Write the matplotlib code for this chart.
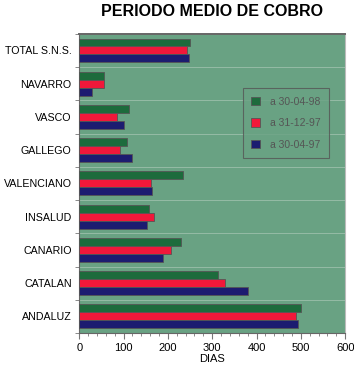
import matplotlib.pyplot as plt
import numpy as np
from matplotlib.ticker import MultipleLocator

plt.rcParams['font.family'] = ['Liberation Sans', 'DejaVu Sans']

categories = ['TOTAL S.N.S.', 'NAVARRO', 'VASCO', 'GALLEGO', 'VALENCIANO',
              'INSALUD', 'CANARIO', 'CATALAN', 'ANDALUZ']
a_300498 = [250, 56, 113, 108, 235, 157, 230, 313, 500]
a_311297 = [243, 56, 86, 92, 162, 169, 208, 329, 488]
a_300497 = [248, 29, 102, 118, 163, 153, 190, 381, 494]
series_labels = ['a 30-04-98', 'a 31-12-97', 'a 30-04-97']
colors = ['#1d6b3c', '#f0183a', '#1c1c70']

fig = plt.figure(figsize=(3.54, 3.68), dpi=100)
# plot area: x 79..345 px, y 34..333 px
ax = fig.add_axes([0.224, 0.095, 0.751, 0.813])
bg = '#69a283'
ax.set_facecolor(bg)

y = np.arange(len(categories))[::-1]
h = 0.24
for i, (vals, lab, c) in enumerate(zip([a_300498, a_311297, a_300497], series_labels, colors)):
    ax.barh(y + (1 - i) * h, vals, height=h, color=c, edgecolor='#555555',
            linewidth=0.6, label=lab, zorder=3)

ax.set_ylim(-0.5, len(categories) - 0.5)
ax.set_xlim(0, 600)
ax.set_yticks(y)
ax.set_yticklabels(categories, fontsize=7.7)
ax.set_yticks(np.arange(-0.5, len(categories)), minor=True)
ax.tick_params(axis='y', which='major', length=0, pad=5.5)
ax.tick_params(axis='y', which='minor', length=3, color='#777777')
ax.xaxis.set_major_locator(MultipleLocator(100))
ax.xaxis.set_minor_locator(MultipleLocator(20))
ax.tick_params(axis='x', which='major', labelsize=8, length=4, color='#777777', pad=3)
ax.tick_params(axis='x', which='minor', length=2, color='#777777')
ax.grid(axis='y', which='minor', color='#9cbfab', linewidth=0.6, zorder=1)
ax.set_xlabel('DIAS', fontsize=8, labelpad=1)

for s in ['top', 'left', 'bottom']:
    ax.spines[s].set_color('#666666')
ax.spines['top'].set_linewidth(1.4)
ax.spines['right'].set_color('#bbbbbb')

fig.suptitle('PERIODO MEDIO DE COBRO', x=0.6, y=0.99, fontsize=11.5, fontweight='bold')

leg = ax.legend(loc='upper left', bbox_to_anchor=(0.595, 0.835), fontsize=7.5,
                frameon=True, facecolor=bg, edgecolor='#555555', fancybox=False,
                handlelength=0.85, handleheight=0.85, labelspacing=1.1,
                borderpad=0.8, handletextpad=1.0, labelcolor='#555555')
leg.get_frame().set_linewidth(0.8)

plt.savefig('out.png', dpi=100)
